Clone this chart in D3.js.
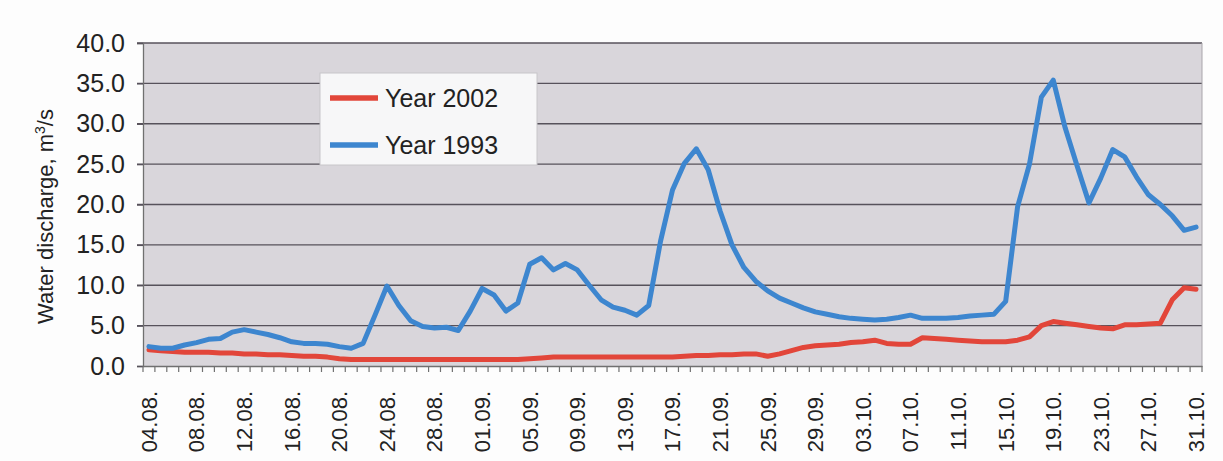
<!DOCTYPE html>
<html>
<head>
<meta charset="utf-8">
<script src="https://cdn.jsdelivr.net/npm/d3@7"></script>
<style>
  html, body { margin: 0; padding: 0; background: #fdfdfd; }
  svg { display: block; font-family: Arial, "Liberation Sans", sans-serif; }
</style>
</head>
<body>
<svg id="chart" width="1223" height="461"></svg>
<script>
const categories = [
  "04.08.","05.08.","06.08.","07.08.","08.08.","09.08.","10.08.","11.08.","12.08.","13.08.",
  "14.08.","15.08.","16.08.","17.08.","18.08.","19.08.","20.08.","21.08.","22.08.","23.08.",
  "24.08.","25.08.","26.08.","27.08.","28.08.","29.08.","30.08.","31.08.",
  "01.09.","02.09.","03.09.","04.09.","05.09.","06.09.","07.09.","08.09.","09.09.","10.09.",
  "11.09.","12.09.","13.09.","14.09.","15.09.","16.09.","17.09.","18.09.","19.09.","20.09.",
  "21.09.","22.09.","23.09.","24.09.","25.09.","26.09.","27.09.","28.09.","29.09.","30.09.",
  "01.10.","02.10.","03.10.","04.10.","05.10.","06.10.","07.10.","08.10.","09.10.","10.10.",
  "11.10.","12.10.","13.10.","14.10.","15.10.","16.10.","17.10.","18.10.","19.10.","20.10.",
  "21.10.","22.10.","23.10.","24.10.","25.10.","26.10.","27.10.","28.10.","29.10.","30.10.","31.10."
];
const tickLabels = ["04.08.","08.08.","12.08.","16.08.","20.08.","24.08.","28.08.","01.09.","05.09.","09.09.",
  "13.09.","17.09.","21.09.","25.09.","29.09.","03.10.","07.10.","11.10.","15.10.","19.10.","23.10.","27.10.","31.10."];
const yTicks = [0,5,10,15,20,25,30,35,40];

const year2002 = [
  2.0,1.9,1.8,1.7,1.7,1.7,1.6,1.6,1.5,1.5,
  1.4,1.4,1.3,1.2,1.2,1.1,0.9,0.8,0.8,0.8,
  0.8,0.8,0.8,0.8,0.8,0.8,0.8,0.8,0.8,0.8,
  0.8,0.8,0.9,1.0,1.1,1.1,1.1,1.1,1.1,1.1,
  1.1,1.1,1.1,1.1,1.1,1.2,1.3,1.3,1.4,1.4,
  1.5,1.5,1.2,1.5,1.9,2.3,2.5,2.6,2.7,2.9,
  3.0,3.2,2.8,2.7,2.7,3.5,3.4,3.3,3.2,3.1,
  3.0,3.0,3.0,3.2,3.6,5.0,5.5,5.3,5.1,4.9,
  4.7,4.6,5.1,5.1,5.2,5.3,8.2,9.7,9.5
];
const year1993 = [
  2.4,2.2,2.2,2.6,2.9,3.3,3.4,4.2,4.5,4.2,
  3.9,3.5,3.0,2.8,2.8,2.7,2.4,2.2,2.8,6.3,
  9.9,7.5,5.6,4.9,4.7,4.8,4.4,6.8,9.6,8.8,
  6.8,7.8,12.6,13.4,11.9,12.7,11.9,10.0,8.2,7.3,
  6.9,6.3,7.5,15.5,21.8,25.1,26.9,24.3,19.2,15.0,
  12.2,10.5,9.3,8.4,7.8,7.2,6.7,6.4,6.1,5.9,
  5.8,5.7,5.8,6.0,6.3,5.9,5.9,5.9,6.0,6.2,
  6.3,6.4,8.0,19.7,25.0,33.3,35.4,29.5,24.8,20.2,
  23.3,26.8,25.9,23.4,21.2,20.0,18.6,16.8,17.2
];
const seriesNames = ["Year 2002","Year 1993"];
const seriesColors = ["#e2463a","#3d86cf"];

const svg = d3.select("#chart");
const pLeft = 143, pRight = 1202, pTop = 43, pBottom = 366;

const x = d3.scaleBand().domain(categories).range([pLeft, pRight]).padding(0);
const y = d3.scaleLinear().domain([0, 40]).range([pBottom, pTop]);
const cx = c => x(c) + x.bandwidth() / 2;

// plot background
svg.append("rect").attr("x", pLeft).attr("y", pTop)
  .attr("width", pRight - pLeft).attr("height", pBottom - pTop)
  .attr("fill", "#d9d6db");

// gridlines
svg.append("g").selectAll("line").data(yTicks.filter(d => d > 0)).join("line")
  .attr("x1", pLeft - 6).attr("x2", pRight)
  .attr("y1", d => y(d)).attr("y2", d => y(d))
  .attr("stroke", "#57525b").attr("stroke-width", 1.4);

// right border
svg.append("line").attr("x1", pRight).attr("x2", pRight).attr("y1", pTop).attr("y2", pBottom)
  .attr("stroke", "#a9a6ab").attr("stroke-width", 1);

// y axis
const yAxis = d3.axisLeft(y).tickValues(yTicks).tickFormat(d3.format(".1f")).tickSize(6).tickPadding(14);
const gy = svg.append("g").attr("transform", `translate(${pLeft},0)`).call(yAxis);
gy.select(".domain").attr("stroke", "#707070").attr("stroke-width", 1.3);
gy.selectAll(".tick line").attr("stroke", "#57525b").attr("stroke-width", 1.4);
gy.selectAll("text").attr("font-size", 25).attr("fill", "#222").attr("dx", 2);

// x axis
const xAxis = d3.axisBottom(x).tickValues(tickLabels).tickSize(0).tickPadding(0);
const gx = svg.append("g").attr("transform", `translate(0,${pBottom})`).call(xAxis);
gx.select(".domain").attr("stroke", "#707070").attr("stroke-width", 1.3);
gx.selectAll("text")
  .attr("font-size", 22).attr("fill", "#222")
  .attr("transform", "rotate(-90)")
  .attr("x", -25).attr("y", 0).attr("dy", "0.36em")
  .attr("text-anchor", "end");

// minor ticks at category boundaries
svg.append("g").selectAll("line").data(categories.concat(["_end"])).join("line")
  .attr("x1", (d, i) => i < categories.length ? x(d) : pRight)
  .attr("x2", (d, i) => i < categories.length ? x(d) : pRight)
  .attr("y1", pBottom).attr("y2", pBottom + 6)
  .attr("stroke", "#707070").attr("stroke-width", 1.2);

// y axis title
const yt = svg.append("text")
  .attr("transform", `translate(53,${(pTop + pBottom) / 2 + 12}) rotate(-90)`)
  .attr("text-anchor", "middle").attr("font-size", 22).attr("fill", "#222");
yt.append("tspan").text("Water discharge, m");
yt.append("tspan").attr("baseline-shift", "super").attr("font-size", 14).text("3");
yt.append("tspan").text("/s");

// lines
const line = d3.line().x((d, i) => cx(categories[i])).y(d => y(d)).curve(d3.curveLinear);
[year2002, year1993].forEach((s, k) => {
  svg.append("path").datum(s)
    .attr("fill", "none").attr("stroke", seriesColors[k])
    .attr("stroke-width", 5).attr("stroke-linejoin", "round").attr("stroke-linecap", "round")
    .attr("d", line);
});

// legend
const lg = svg.append("g");
lg.append("rect").attr("x", 320).attr("y", 73).attr("width", 217).attr("height", 92)
  .attr("fill", "#f7f7f8").attr("stroke", "#c8c6ca").attr("stroke-width", 1);
seriesNames.forEach((n, k) => {
  const yy = 98 + k * 47;
  lg.append("line").attr("x1", 330).attr("x2", 378).attr("y1", yy).attr("y2", yy)
    .attr("stroke", seriesColors[k]).attr("stroke-width", 5.5);
  lg.append("text").attr("x", 385).attr("y", yy).attr("dy", "0.36em")
    .attr("font-size", 25).attr("fill", "#222").text(n);
});
</script>
</body>
</html>
